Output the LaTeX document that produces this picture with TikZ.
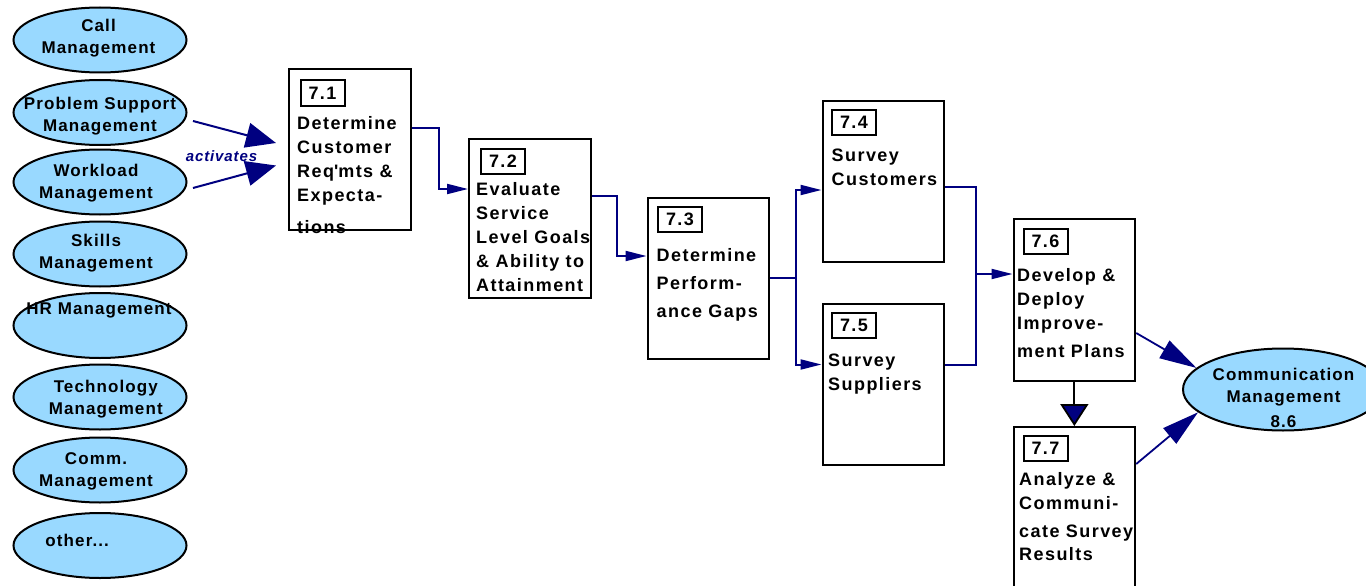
\documentclass[tikz,border=0pt]{standalone}
\usepackage{fontspec}
\usetikzlibrary{arrows.meta,shapes.geometric}
\setmainfont{Liberation Sans}
\newfontfamily\ovalfam[LetterSpace=6.5]{Liberation Sans}
\newfontfamily\boxfam[LetterSpace=8]{Liberation Sans}
\newfontfamily\actfam[LetterSpace=6]{Liberation Sans}
\newcommand\ovalfont{\ovalfam\bfseries\fontsize{17}{22}\selectfont}
\newcommand\boxfont{\boxfam\bfseries\fontsize{18}{24}\selectfont}
\newcommand\actfont{\actfam\bfseries\itshape\fontsize{15}{18}\selectfont}
\definecolor{navy}{RGB}{0,0,128}
\definecolor{skyfill}{RGB}{153,217,255}
\begin{document}
\begin{tikzpicture}[x=1pt,y=-1pt,
  oval/.style={ellipse,draw=black,line width=2pt,fill=skyfill,
    minimum width=173pt,minimum height=65pt,inner sep=0pt},
  ovaltxt/.style={font=\ovalfont,align=center,inner sep=0pt,anchor=north},
  stepbox/.style={rectangle,draw=black,line width=2.2pt,fill=white,
    minimum width=122pt,minimum height=161pt,inner sep=0pt,anchor=north west},
  numbox/.style={rectangle,draw=black,line width=2pt,fill=white,
    minimum width=44pt,minimum height=25pt,inner sep=0pt,font=\boxfont},
  boxtxt/.style={font=\boxfont,align=left,inner sep=0pt,anchor=north west},
  plainline/.style={draw=navy,line width=2pt},
  flow/.style={plainline,-{Triangle[length=21pt,width=10pt]}},
  activ/.style={draw=navy,line width=2pt,-{Triangle[length=30pt,width=25pt]}},
  notify/.style={draw=navy,line width=1.8pt,-{Triangle[length=37pt,width=20pt]}},
  handoff/.style={draw=black,line width=1.8pt,-{Triangle[length=22pt,width=28pt,fill=navy]}}]

\path[fill=white,use as bounding box] (0,0) rectangle (1366,586);

% left column of management processes
\node[oval] (callm) at (100,40) {};
\node[oval] (psm)   at (100,112.5) {};
\node[oval] (wlm)   at (100,182) {};
\node[oval] (skm)   at (100,254) {};
\node[oval] (hrm)   at (100,325.5) {};
\node[oval] (tecm)  at (100,397) {};
\node[oval] (comm7) at (100,470) {};
\node[oval] (oth)   at (100,545.5) {};

\node[ovaltxt] (callmt) at (98.5,18.7)  {Call\\Management};
\node[ovaltxt] (psmt)   at (100,97)     {Problem Support\\Management};
\node[ovaltxt] (wlmt)   at (96,163.7)   {Workload\\Management};
\node[ovaltxt] (skmt)   at (96,233.7)   {Skills\\Management};
\node[ovaltxt] (hrmt)   at (99,303)     {HR Management};
\node[ovaltxt] (tecmt)  at (105.8,380.4) {Technology\\Management};
\node[ovaltxt] (comm7t) at (96,452.7)   {Comm.\\Management};
\node[ovaltxt] (otht)   at (77.2,533.7) {other...};

% activation arrows
\coordinate (actAs) at (193,121);
\coordinate (actAe) at (276,143);
\coordinate (actBs) at (193,188);
\coordinate (actBe) at (276,165.5);
\draw[activ] (actAs) -- (actAe);
\draw[activ] (actBs) -- (actBe);
\node[font=\actfont,text=navy,inner sep=0pt] (actlbl) at (221.5,156) {activates};

% process steps
\node[stepbox] (b71) at (288,68) {};
\node[stepbox,minimum height=159pt] (b72) at (468,138) {};
\node[stepbox,minimum width=121.5pt] (b73) at (646.5,196.5) {};
\node[stepbox,minimum width=121.5pt] (b74) at (821.5,100) {};
\node[stepbox,minimum width=121.5pt] (b75) at (821.5,303) {};
\node[stepbox,minimum width=121.5pt,minimum height=162pt] (b76) at (1012.5,218) {};
\node[stepbox,minimum width=121.5pt,minimum height=200pt] (b77) at (1012.5,426) {};

\node[numbox] (n71) at (322.5,93)   {7.1};
\node[numbox] (n72) at (503,161)    {7.2};
\node[numbox] (n73) at (680,219.5)  {7.3};
\node[numbox] (n74) at (854,122)    {7.4};
\node[numbox] (n75) at (854,325)    {7.5};
\node[numbox] (n76) at (1045.5,241) {7.6};
\node[numbox] (n77) at (1045.5,448.5) {7.7};

\node[boxtxt] (t71) at (297,116.5)   {Determine\\Customer\\Req\textquotesingle mts \&\\Expecta-\\[7.5pt]tions};
\node[boxtxt] (t72) at (476,182)     {Evaluate\\Service\\Level Goals\\\& Ability to\\Attainment};
\node[boxtxt] (t73) at (656.5,248.5) {Determine\\[3.7pt]Perform-\\[3.7pt]ance Gaps};
\node[boxtxt] (t74) at (831.5,149.2) {Survey\\Customers};
\node[boxtxt] (t75) at (828,354.2)   {Survey\\Suppliers};
\node[boxtxt] (t76) at (1017,268.5)  {Develop \&\\Deploy\\Improve-\\[3.7pt]ment Plans};
\node[boxtxt] (t77) at (1019,472.5)  {Analyze \&\\Communi-\\[4pt]cate Survey\\[-1pt]Results};

% communication management
\node[oval,minimum width=200pt,minimum height=82pt] (comm) at (1283,389.5) {};
\node[ovaltxt] (commt) at (1283.5,367.7) {Communication\\[0.7pt]Management\\[3pt]8.6};

% flow between steps
\draw[flow] (b71.east |- 0,128) -- ++(27,0) |- (b72.west |- 0,189);
\draw[flow] (b72.east |- 0,196) -- ++(25,0) |- (b73.west |- 0,256);
\coordinate (split) at (796,277.5);
\draw[plainline] (b73.east |- split) -- (split);
\draw[flow] (split) |- (b74.west |- 0,190);
\draw[flow] (split) |- (b75.west |- 0,364.5);
\coordinate (merge) at (976,274);
\draw[plainline] (b74.east |- 0,186.5) -| (merge);
\draw[plainline] (b75.east |- 0,365) -| (merge);
\draw[flow] (merge) -- (b76.west |- merge);
\draw[handoff] (b76.south) -- (b77.north);
\draw[notify] (b76.east |- 0,333) -- (comm.166.7);
\draw[notify] (b77.east |- 0,464) -- (comm.195.2);
\end{tikzpicture}
\end{document}
